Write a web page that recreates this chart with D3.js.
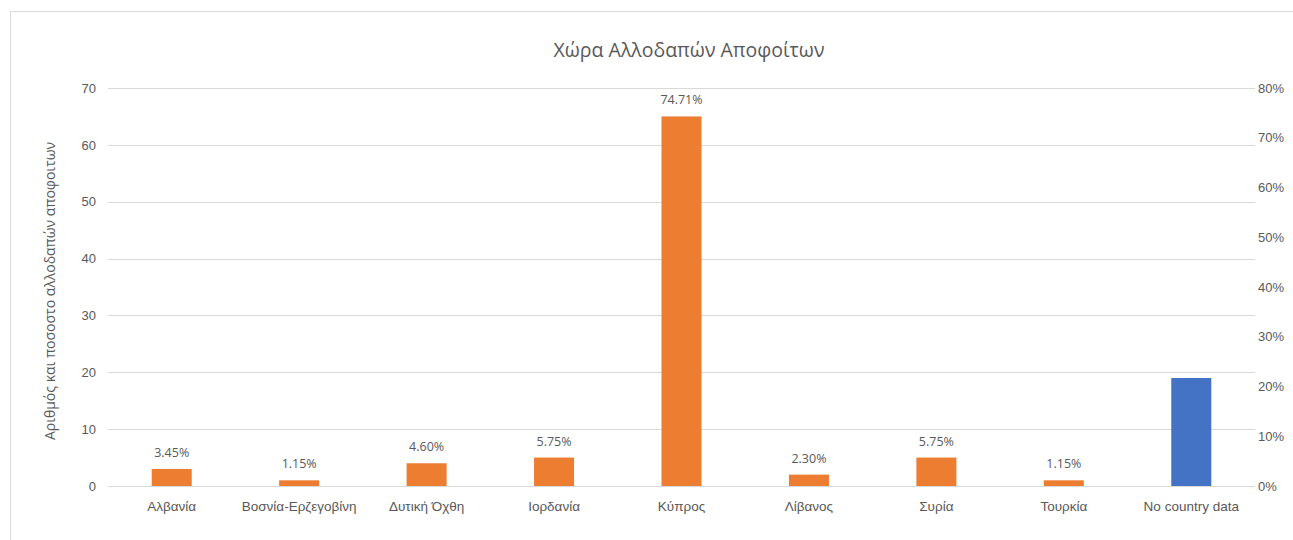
<!DOCTYPE html>
<html>
<head>
<meta charset="utf-8">
<script src="https://cdn.jsdelivr.net/npm/d3@7"></script>
<style>
  html, body { margin: 0; padding: 0; background: #fff; }
  svg { display: block; font-family: "Open Sans", "Noto Sans", sans-serif; }
</style>
</head>
<body>
<svg id="chart" width="1293" height="540"></svg>
<script>
// Graduates by country of origin
const categories = ["Αλβανία", "Βοσνία-Ερζεγοβίνη", "Δυτική Όχθη", "Ιορδανία", "Κύπρος", "Λίβανος", "Συρία", "Τουρκία", "No country data"];
const counts = [3, 1, 4, 5, 65, 2, 5, 1, 19];
const percentLabels = ["3.45%", "1.15%", "4.60%", "5.75%", "74.71%", "2.30%", "5.75%", "1.15%", null];
const barColors = ["#ED7D31", "#ED7D31", "#ED7D31", "#ED7D31", "#ED7D31", "#ED7D31", "#ED7D31", "#ED7D31", "#4472C4"];
const leftTicks = [0, 10, 20, 30, 40, 50, 60, 70];
const rightTicks = [0, 0.1, 0.2, 0.3, 0.4, 0.5, 0.6, 0.7, 0.8];
const titleText = "Χώρα Αλλοδαπών Αποφοίτων";
const yTitleText = "Αριθμός και ποσοστο αλλοδαπών αποφοιτων";

const svg = d3.select("#chart");
const textColor = "#595959";
const gridColor = "#D9D9D9";

const plot = { left: 108, right: 1255, top: 88, bottom: 486 };

// chart frame
svg.append("rect")
  .attr("x", 10.5).attr("y", 11.5)
  .attr("width", 1300).attr("height", 560)
  .attr("fill", "#fff").attr("stroke", "#D9D9D9").attr("stroke-width", 1);

const x = d3.scaleBand()
  .domain(categories)
  .range([plot.left, plot.right])
  .paddingInner(0.686)
  .paddingOuter(0.343);

const y = d3.scaleLinear().domain([0, 70]).range([plot.bottom, plot.top]);
const y2 = d3.scaleLinear().domain([0, 0.8]).range([plot.bottom, plot.top]);

// gridlines
svg.append("g").selectAll("line")
  .data(leftTicks)
  .join("line")
  .attr("x1", plot.left).attr("x2", plot.right)
  .attr("y1", d => Math.round(y(d)) + 0.5).attr("y2", d => Math.round(y(d)) + 0.5)
  .attr("stroke", gridColor).attr("stroke-width", 1);

// left axis
const leftAxis = svg.append("g")
  .attr("transform", `translate(${plot.left - 12},0)`)
  .call(d3.axisLeft(y).tickValues(leftTicks).tickSize(0).tickPadding(0));
leftAxis.select(".domain").remove();
leftAxis.selectAll("text")
  .attr("fill", textColor).style("font-size", "13px");

// right axis
const rightAxis = svg.append("g")
  .attr("transform", `translate(${plot.right + 3},0)`)
  .call(d3.axisRight(y2).tickValues(rightTicks).tickFormat(d3.format(".0%")).tickSize(0).tickPadding(0));
rightAxis.select(".domain").remove();
rightAxis.selectAll("text")
  .attr("fill", textColor).style("font-size", "13px");

// bottom axis labels
const bottomAxis = svg.append("g")
  .attr("transform", `translate(0,${plot.bottom})`)
  .call(d3.axisBottom(x).tickSize(0).tickPadding(15));
bottomAxis.select(".domain").remove();
bottomAxis.selectAll("text")
  .attr("fill", textColor).style("font-size", "13.5px");

// bars
svg.append("g").selectAll("rect")
  .data(categories)
  .join("rect")
  .attr("x", d => x(d))
  .attr("width", x.bandwidth())
  .attr("y", (d, i) => y(counts[i]))
  .attr("height", (d, i) => y(0) - y(counts[i]))
  .attr("fill", (d, i) => barColors[i]);

// data labels
svg.append("g").selectAll("text")
  .data(categories.filter((d, i) => percentLabels[i] !== null))
  .join("text")
  .attr("x", d => x(d) + x.bandwidth() / 2)
  .attr("y", d => y(counts[categories.indexOf(d)]) - 12)
  .attr("text-anchor", "middle")
  .attr("fill", textColor)
  .style("font-size", "12.5px")
  .text(d => percentLabels[categories.indexOf(d)]);

// title
svg.append("text")
  .attr("x", 689).attr("y", 57)
  .attr("text-anchor", "middle")
  .attr("fill", textColor)
  .style("font-size", "19.5px")
  .text(titleText);

// y-axis title
svg.append("text")
  .attr("transform", "translate(55,291) rotate(-90)")
  .attr("text-anchor", "middle")
  .attr("fill", textColor)
  .style("font-size", "14px")
  .text(yTitleText);
</script>
</body>
</html>
